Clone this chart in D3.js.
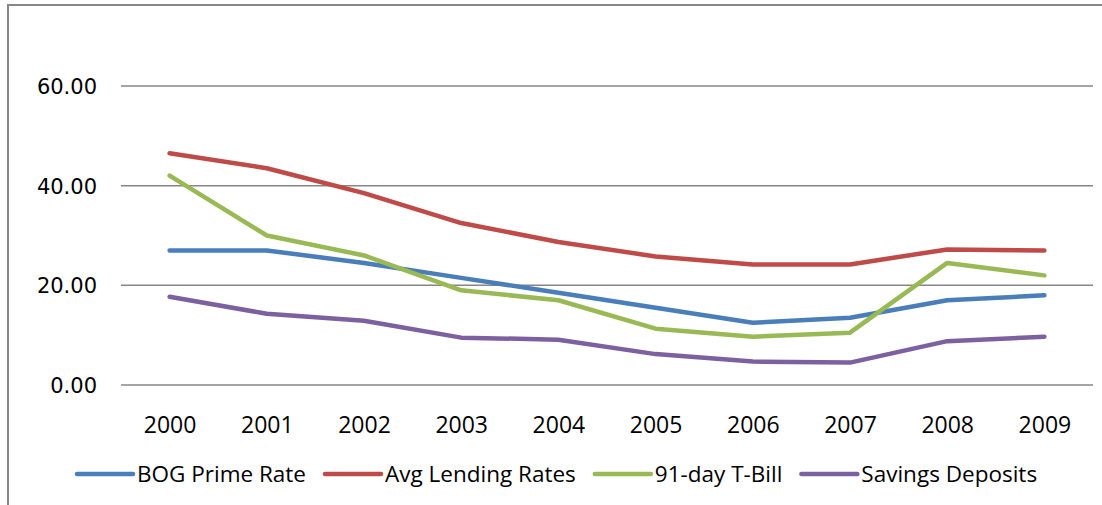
<!DOCTYPE html>
<html><head><meta charset="utf-8">
<script src="https://cdn.jsdelivr.net/npm/d3@7"></script>
<style>body{margin:0;background:#fff}svg{display:block}</style>
</head><body><svg id="c" width="1102" height="505"></svg>
<script>
const years = ["2000","2001","2002","2003","2004","2005","2006","2007","2008","2009"];
const bogPrime = [27.0, 27.0, 24.5, 21.5, 18.5, 15.5, 12.5, 13.5, 17.0, 18.0];
const avgLending = [46.5, 43.5, 38.5, 32.5, 28.7, 25.8, 24.2, 24.2, 27.2, 27.0];
const tBill91 = [42.0, 30.0, 26.0, 19.0, 17.0, 11.3, 9.7, 10.5, 24.5, 22.0];
const savings = [17.7, 14.3, 12.9, 9.5, 9.1, 6.2, 4.7, 4.5, 8.8, 9.7];
const yTicks = [0, 20, 40, 60];
const seriesNames = ["BOG Prime Rate","Avg Lending Rates","91-day T-Bill","Savings Deposits"];
const seriesColors = ["#4A7EBB","#BE4B48","#98B954","#7D60A0"];
const seriesValues = [bogPrime, avgLending, tBill91, savings];

(function(){
const svg = d3.select("#c");
const pl = 121, pr = 1093, pt = 86, pb = 385;
const x = d3.scalePoint().domain(years).range([pl, pr]).padding(0.5);
const y = d3.scaleLinear().domain([0, 60]).range([pb, pt]);

// frame (partial border of the chart area)
svg.append("path").attr("d", `M8,505 L8,5 L1102,5`).attr("fill","none").attr("stroke","#878787").attr("stroke-width",2);

// gridlines
svg.append("g").selectAll("line").data(yTicks).join("line")
  .attr("x1", pl).attr("x2", pr).attr("y1", d=>y(d)).attr("y2", d=>y(d))
  .attr("stroke","#868686").attr("stroke-width",1.5);

// y axis labels
const yAxis = d3.axisLeft(y).tickValues(yTicks).tickFormat(d3.format(".2f")).tickSize(0).tickPadding(0);
const gy = svg.append("g").attr("transform","translate(97,0)").call(yAxis);
gy.select(".domain").remove();
gy.selectAll("text").attr("font-family","DejaVu Sans").attr("font-size",21).attr("fill","#000").attr("dy","0.36em");

// x axis labels
const xAxis = d3.axisBottom(x).tickSize(0).tickPadding(0);
const gx = svg.append("g").attr("transform","translate(0,433)").call(xAxis);
gx.select(".domain").remove();
gx.selectAll("text").attr("font-family","Open Sans").attr("font-size",23).attr("fill","#000").attr("dy",0);

// lines
const line = d3.line().x((d,i)=>x(years[i])).y(d=>y(d));
svg.append("g").selectAll("path").data(seriesValues).join("path")
  .attr("d", d=>line(d)).attr("fill","none")
  .attr("stroke",(d,i)=>seriesColors[i]).attr("stroke-width",4.5)
  .attr("stroke-linejoin","round").attr("stroke-linecap","round");

// legend
const lg = svg.append("g");
let lx = 77;
const ly = 474;
seriesNames.forEach((n,i)=>{
  lg.append("line").attr("x1",lx).attr("x2",lx+56).attr("y1",ly).attr("y2",ly)
    .attr("stroke",seriesColors[i]).attr("stroke-width",4.5).attr("stroke-linecap","round");
  const t = lg.append("text").attr("x",lx+60).attr("y",ly).attr("dy","0.36em")
    .attr("font-family","Open Sans").attr("font-size",22.5).attr("fill","#000").text(n);
  const w = t.node().getComputedTextLength();
  lx = lx + 60 + w + 19;
});
})();
</script></body></html>
